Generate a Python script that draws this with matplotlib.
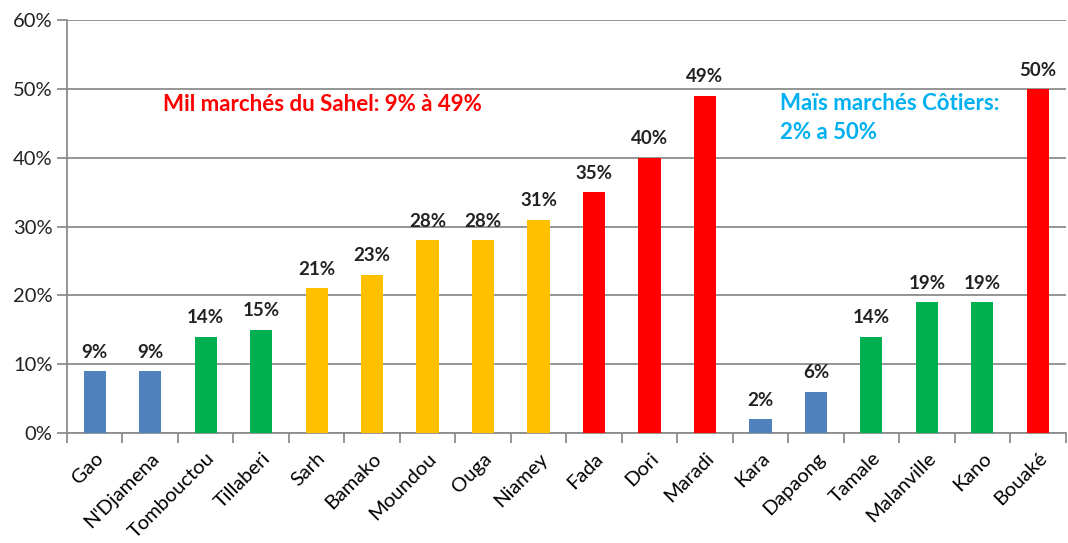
import matplotlib.pyplot as plt
from matplotlib.ticker import MultipleLocator, FuncFormatter

plt.rcParams['font.family'] = ['Lato', 'DejaVu Sans']

markets = ['Gao', "N'Djamena", 'Tombouctou', 'Tillaberi', 'Sarh', 'Bamako',
           'Moundou', 'Ouga', 'Niamey', 'Fada', 'Dori', 'Maradi', 'Kara',
           'Dapaong', 'Tamale', 'Malanville', 'Kano', 'Bouaké']
values = [9, 9, 14, 15, 21, 23, 28, 28, 31, 35, 40, 49, 2, 6, 14, 19, 19, 50]
groups = ['blue', 'blue', 'green', 'green', 'yellow', 'yellow', 'yellow',
          'yellow', 'yellow', 'red', 'red', 'red', 'blue', 'blue', 'green',
          'green', 'green', 'red']

palette = {'blue': '#4F81BD', 'green': '#00B050', 'yellow': '#FFC000', 'red': '#FF0000'}
grid_col = '#8C8C8C'

fig = plt.figure(figsize=(10.68, 5.43), dpi=100)
ax = fig.add_axes([0.0627, 0.2026, 0.935, 0.7605])

x = range(len(markets))
ax.bar(x, values, width=0.4, color=[palette[g] for g in groups], zorder=3)

for i, v in enumerate(values):
    ax.text(i, v + 1.5, f'{v}%', ha='center', va='bottom', fontsize=13.5,
            fontweight='bold', color='#222222')

ax.set_xlim(-0.5, len(markets) - 0.5)
ax.set_ylim(0, 60)
ax.yaxis.set_major_locator(MultipleLocator(10))
ax.yaxis.set_major_formatter(FuncFormatter(lambda v, p: f'{v:.0f}%'))
ax.grid(axis='y', color=grid_col, linewidth=1.3, zorder=0)

ax.set_xticks(list(x))
ax.set_xticklabels(markets, rotation=45, ha='right', rotation_mode='anchor')
ax.set_xticks([i + 0.5 for i in range(-1, len(markets))], minor=True)
ax.tick_params(axis='x', which='major', length=0, labelsize=14.5, pad=12)
ax.tick_params(axis='x', which='minor', length=7, color=grid_col, width=1.3)
ax.tick_params(axis='y', length=7, color=grid_col, width=1.3, labelsize=14.5,
               labelcolor='#222222')

for s in ['top', 'right']:
    ax.spines[s].set_visible(False)
for s in ['left', 'bottom']:
    ax.spines[s].set_color(grid_col)
    ax.spines[s].set_linewidth(1.3)

ax.text(1.23, 47.7, 'Mil marchés du Sahel: 9% à 49%', color='#FF0000',
        fontsize=16, fontweight='bold', va='center')
ax.text(12.35, 45.8, 'Maïs marchés Côtiers:\n2% a 50%', color='#00B0F0',
        fontsize=16, fontweight='bold', va='center', linespacing=1.5)

fig.savefig('out.png', dpi=100)
